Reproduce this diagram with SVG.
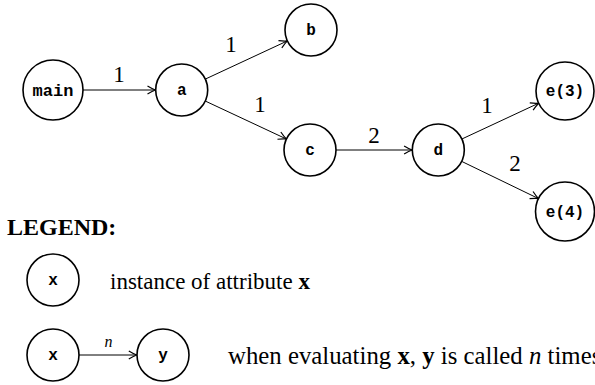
<svg xmlns="http://www.w3.org/2000/svg" width="595" height="385" viewBox="0 0 595 385">
<style>
.node circle{fill:#fff;stroke:#000;stroke-width:1.6}
.node text{font-family:"Liberation Mono","Courier New",monospace;font-weight:bold;font-size:16px;text-anchor:middle;fill:#000}
.edge{stroke:#000;stroke-width:1;fill:none;marker-end:url(#arr)}
.lbl{font-family:"Liberation Serif","Times New Roman",serif;font-size:23px;text-anchor:middle;fill:#000}
.txt{font-family:"Liberation Serif","Times New Roman",serif;font-size:23px;fill:#000}
</style>
<defs>
<marker id="arr" markerUnits="userSpaceOnUse" markerWidth="12" markerHeight="12" viewBox="-9 -6 12 12" refX="0" refY="0" orient="auto">
<path d="M-8,-4 Q-3,-1 0,0 Q-3,1 -8,4" fill="none" stroke="#000" stroke-width="1.2"/>
</marker>
</defs>
<rect width="595" height="385" fill="#fff"/>
<g id="connectors">
<line class="edge" x1="83" y1="90" x2="155.5" y2="90"/>
<line class="edge" x1="205.3" y1="79.1" x2="287.4" y2="40.9"/>
<line class="edge" x1="205.2" y1="101" x2="286.4" y2="139"/>
<line class="edge" x1="336" y1="150" x2="412.1" y2="150"/>
<line class="edge" x1="461.9" y1="139" x2="538.7" y2="103.2"/>
<line class="edge" x1="461.7" y1="161.4" x2="538.5" y2="198.6"/>
<line class="edge" x1="79" y1="355" x2="136.8" y2="355"/>
<text class="lbl" x="119" y="82">1</text>
<text class="lbl" x="231" y="52">1</text>
<text class="lbl" x="260" y="112">1</text>
<text class="lbl" x="374" y="143">2</text>
<text class="lbl" x="487" y="113">1</text>
<text class="lbl" x="515" y="171">2</text>
<text x="108.5" y="347" style="font-family:'Liberation Serif',serif;font-style:italic;font-size:16px;text-anchor:middle">n</text>
</g>
<g id="main" class="node"><circle cx="53" cy="90" r="30"/><text x="53" y="95.5" style="font-size:17px">main</text></g>
<g id="a" class="node"><circle cx="181.7" cy="90" r="26"/><text x="181.7" y="95">a</text></g>
<g id="b" class="node"><circle cx="311" cy="30" r="26"/><text x="311" y="35">b</text></g>
<g id="c" class="node"><circle cx="310" cy="150" r="26"/><text x="310" y="155">c</text></g>
<g id="d" class="node"><circle cx="438.3" cy="150" r="26"/><text x="438.3" y="155">d</text></g>
<g id="e3" class="node"><circle cx="565" cy="91" r="29"/><text x="565" y="96">e(3)</text></g>
<g id="e4" class="node"><circle cx="565" cy="211.5" r="29.5"/><text x="565" y="216.5">e(4)</text></g>
<text class="txt" x="7" y="235" style="font-weight:bold;font-size:24px">LEGEND:</text>
<g id="legend-x1" class="node"><circle cx="53" cy="280" r="26"/><text x="53" y="285">x</text></g>
<text class="txt" x="110" y="289">instance of attribute <tspan font-weight="bold">x</tspan></text>
<g id="legend-x2" class="node"><circle cx="53" cy="355" r="26"/><text x="53" y="360">x</text></g>
<g id="legend-y" class="node"><circle cx="163" cy="355" r="26"/><text x="163" y="360">y</text></g>
<text class="txt" x="228" y="364" style="font-size:24.8px">when evaluating <tspan font-weight="bold">x</tspan>, <tspan font-weight="bold">y</tspan> is called <tspan font-style="italic">n</tspan> times</text>
</svg>
